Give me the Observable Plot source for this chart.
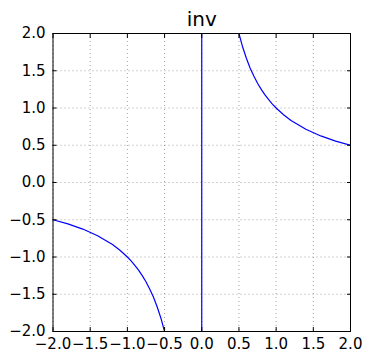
<!DOCTYPE html>
<html>
<head>
<meta charset="utf-8">
<script src="https://cdn.jsdelivr.net/npm/d3@7"></script>
<script src="https://cdn.jsdelivr.net/npm/@observablehq/plot@0.6"></script>
<style>
  html, body { margin: 0; padding: 0; background: white; }
</style>
</head>
<body>
<div id="chart"></div>
<script>
const title = "inv";
const xTicks = [-2, -1.5, -1, -0.5, 0, 0.5, 1, 1.5, 2];
const xTickLabels = ["−2.0", "−1.5", "−1.0", "−0.5", "0.0", "0.5", "1.0", "1.5", "2.0"];
const yTicks = [-2, -1.5, -1, -0.5, 0, 0.5, 1, 1.5, 2];
const yTickLabels = ["−2.0", "−1.5", "−1.0", "−0.5", "0.0", "0.5", "1.0", "1.5", "2.0"];

// values of the plotted curve (those beyond the frame are clipped)
const xs = [-2.0, -1.8, -1.6, -1.4, -1.2, -1.1, -1.0, -0.95, -0.9, -0.85, -0.8, -0.75, -0.7, -0.65, -0.6, -0.55, -0.5, -0.45, -0.4, -0.3, -0.2, -0.1, -0.001,
            0.001, 0.1, 0.2, 0.3, 0.4, 0.45, 0.5, 0.55, 0.6, 0.65, 0.7, 0.75, 0.8, 0.85, 0.9, 0.95, 1.0, 1.1, 1.2, 1.4, 1.6, 1.8, 2.0];
const ys = [-0.5, -0.556, -0.625, -0.714, -0.833, -0.909, -1.0, -1.053, -1.111, -1.176, -1.25, -1.333, -1.429, -1.538, -1.667, -1.818, -2.0, -2.222, -2.5, -3.333, -5.0, -10.0, -1000,
            1000, 10.0, 5.0, 3.333, 2.5, 2.222, 2.0, 1.818, 1.667, 1.538, 1.429, 1.333, 1.25, 1.176, 1.111, 1.053, 1.0, 0.909, 0.833, 0.714, 0.625, 0.556, 0.5];

const data = xs.map((x, i) => ({x, y: ys[i]}));

const chart = Plot.plot({
  width: 365,
  height: 358,
  marginLeft: 52.5,
  marginRight: 15,
  marginTop: 33,
  marginBottom: 27,
  style: {fontFamily: "DejaVu Sans", fontSize: "15px", background: "white", color: "black"},
  x: {domain: [-2, 2], label: null},
  y: {domain: [-2, 2], label: null},
  marks: [
    Plot.gridX(xTicks, {stroke: "black", strokeOpacity: 0.6, strokeWidth: 0.6, strokeDasharray: "1,3"}),
    Plot.gridY(yTicks, {stroke: "black", strokeOpacity: 0.6, strokeWidth: 0.6, strokeDasharray: "1,3"}),
    Plot.line(data, {x: "x", y: "y", stroke: "#0000ff", strokeWidth: 1.2, clip: true}),
    Plot.frame({stroke: "black", strokeWidth: 1}),
    Plot.axisX(xTicks, {anchor: "bottom", tickSize: -4, tickPadding: 11.3, tickFormat: (d, i) => xTickLabels[i], fontSize: 15, label: null}),
    Plot.axisX(xTicks, {anchor: "top", tickSize: -4, text: null, label: null}),
    Plot.axisY(yTicks, {anchor: "left", tickSize: -4, tickPadding: 11.4, tickFormat: (d, i) => yTickLabels[i], fontSize: 15, label: null}),
    Plot.axisY(yTicks, {anchor: "right", tickSize: -4, text: null, label: null}),
    Plot.text([title], {text: d => d, frameAnchor: "top", lineAnchor: "top", dy: -21.5, fontSize: 20})
  ]
});
document.getElementById("chart").appendChild(chart);
</script>
</body>
</html>
